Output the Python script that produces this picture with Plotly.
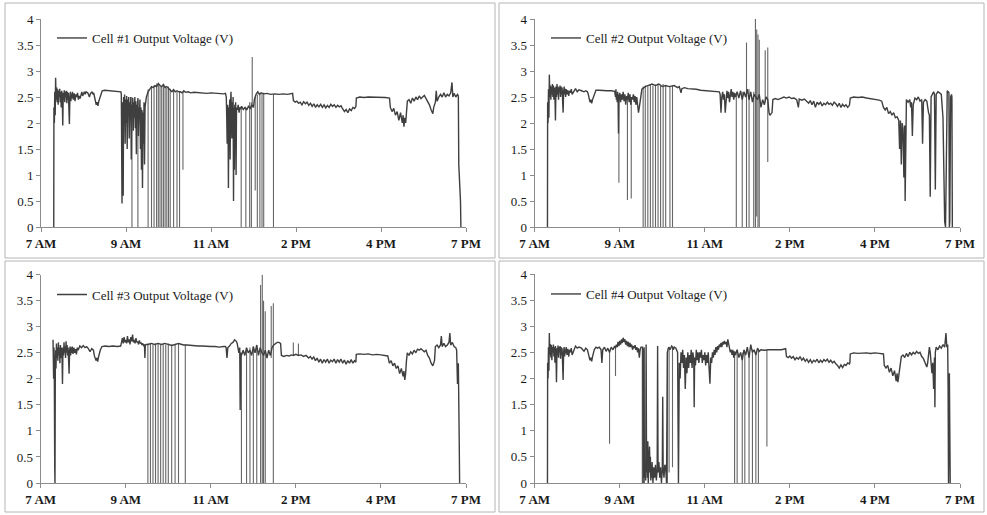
import plotly.graph_objects as go

# x positions are in tick-interval units: 0 = "7 AM" tick ... 5 = "7 PM" tick
tick_vals = [0, 1, 2, 3, 4, 5]
tick_labels = ["7 AM", "9 AM", "11 AM", "2 PM", "4 PM", "7 PM"]
y_ticks = [0, 0.5, 1, 1.5, 2, 2.5, 3, 3.5, 4]
series_names = ["Cell #1 Output Voltage (V)", "Cell #2 Output Voltage (V)",
                "Cell #3 Output Voltage (V)", "Cell #4 Output Voltage (V)"]

cell1_points = [
    (0.15, 0.0), (0.152, 2.3), (0.157, 2.0), (0.162, 2.6), (0.167, 2.15), (0.172, 2.87), (0.178, 2.45),
    (0.185, 2.68), (0.19, 2.4), (0.196, 2.65), (0.202, 2.35), (0.208, 2.62), (0.214, 2.5), (0.22, 2.66),
    (0.226, 2.4), (0.232, 2.6), (0.238, 2.3), (0.244, 2.62), (0.25, 2.5), (0.256, 1.95), (0.262, 2.58),
    (0.268, 2.45), (0.274, 2.63), (0.28, 2.4), (0.286, 2.6), (0.292, 2.5), (0.298, 2.62), (0.304, 2.38),
    (0.31, 2.6), (0.316, 2.45), (0.322, 2.58), (0.328, 2.3), (0.334, 1.98), (0.34, 2.5), (0.346, 2.6),
    (0.352, 2.42), (0.358, 2.56), (0.364, 2.48), (0.37, 2.6), (0.38, 2.45), (0.39, 2.57), (0.40, 2.42),
    (0.41, 2.55), (0.42, 2.5), (0.43, 2.58), (0.44, 2.45), (0.45, 2.52), (0.46, 2.47), (0.47, 2.55),
    (0.48, 2.6), (0.49, 2.52), (0.50, 2.58), (0.51, 2.6), (0.52, 2.55), (0.53, 2.6), (0.55, 2.58),
    (0.57, 2.5), (0.58, 2.56), (0.60, 2.6), (0.61, 2.55), (0.62, 2.58), (0.63, 2.5), (0.64, 2.42),
    (0.65, 2.35), (0.66, 2.4), (0.67, 2.33), (0.68, 2.42), (0.69, 2.48), (0.70, 2.5), (0.71, 2.55),
    (0.72, 2.62), (0.75, 2.63), (0.80, 2.62), (0.85, 2.62), (0.90, 2.61), (0.94, 2.6),
    (0.945, 2.55), (0.95, 1.2), (0.953, 0.45), (0.957, 2.4), (0.962, 2.1), (0.967, 0.6), (0.972, 2.5),
    (0.978, 2.25), (0.984, 2.55), (0.99, 1.6), (0.996, 2.45), (1.002, 2.0), (1.008, 2.52), (1.014, 1.5),
    (1.02, 2.45), (1.026, 2.2), (1.032, 2.5), (1.038, 1.7), (1.044, 2.4), (1.05, 2.05), (1.056, 2.5),
    (1.062, 1.3), (1.068, 2.35), (1.074, 2.15), (1.08, 2.48), (1.086, 1.85), (1.092, 2.4), (1.098, 2.1),
    (1.104, 2.5), (1.11, 1.9), (1.116, 2.42), (1.122, 1.4), (1.128, 2.35), (1.134, 2.2), (1.14, 2.48),
    (1.146, 1.75), (1.152, 2.3), (1.158, 2.1), (1.164, 2.45), (1.17, 1.5), (1.176, 2.3), (1.182, 1.1),
    (1.188, 2.25), (1.194, 0.75), (1.2, 2.2), (1.206, 1.6), (1.212, 2.4), (1.218, 1.2), (1.224, 2.3),
    (1.23, 2.45), (1.24, 2.5),
    (1.26, 2.6), (1.28, 2.65), (1.30, 2.7), (1.32, 2.68), (1.34, 2.72), (1.36, 2.7), (1.38, 2.76),
    (1.40, 2.72), (1.42, 2.7), (1.44, 2.74), (1.46, 2.68), (1.48, 2.7), (1.50, 2.66), (1.52, 2.62),
    (1.54, 2.6), (1.56, 2.64), (1.58, 2.6), (1.60, 2.62), (1.62, 2.6), (1.64, 2.6), (1.66, 2.58),
    (1.68, 2.62), (1.70, 2.59), (1.73, 2.6), (1.76, 2.58), (1.80, 2.59), (1.85, 2.58), (1.90, 2.58),
    (1.95, 2.57), (2.00, 2.58), (2.05, 2.57), (2.10, 2.57), (2.15, 2.56), (2.17, 2.57),
    (2.18, 2.5), (2.185, 2.1), (2.19, 1.6), (2.195, 2.35), (2.20, 2.2), (2.205, 0.75), (2.21, 2.3),
    (2.215, 1.9), (2.22, 2.45), (2.225, 1.3), (2.23, 2.35), (2.235, 2.6), (2.24, 2.25), (2.245, 1.7),
    (2.25, 2.4), (2.255, 2.15), (2.26, 2.5), (2.265, 0.5), (2.27, 2.3), (2.275, 1.1), (2.28, 2.35),
    (2.285, 2.2), (2.29, 2.4), (2.295, 1.0), (2.30, 2.3), (2.31, 2.25), (2.32, 2.35), (2.33, 2.2),
    (2.34, 2.3), (2.35, 2.28), (2.36, 2.32), (2.38, 2.26), (2.40, 2.3), (2.42, 2.25), (2.44, 2.32),
    (2.46, 2.28), (2.48, 2.35), (2.50, 2.3), (2.51, 2.45), (2.53, 2.55), (2.55, 2.6), (2.57, 2.55),
    (2.59, 2.58), (2.62, 2.56), (2.66, 2.57), (2.70, 2.55), (2.75, 2.56), (2.80, 2.55), (2.85, 2.56),
    (2.90, 2.55), (2.96, 2.57),
    (2.97, 2.43), (2.99, 2.4), (3.01, 2.42), (3.03, 2.38), (3.05, 2.4), (3.07, 2.35), (3.09, 2.41),
    (3.11, 2.37), (3.13, 2.4), (3.15, 2.34), (3.17, 2.38), (3.19, 2.32), (3.21, 2.37), (3.23, 2.3),
    (3.25, 2.35), (3.27, 2.31), (3.29, 2.36), (3.31, 2.3), (3.33, 2.35), (3.35, 2.29), (3.37, 2.34),
    (3.39, 2.3), (3.41, 2.36), (3.43, 2.32), (3.45, 2.35), (3.47, 2.3), (3.49, 2.34), (3.51, 2.31),
    (3.53, 2.33), (3.55, 2.27), (3.57, 2.22), (3.59, 2.26), (3.61, 2.2), (3.63, 2.27), (3.65, 2.24),
    (3.67, 2.3), (3.69, 2.28), (3.705, 2.32), (3.71, 2.48), (3.75, 2.5), (3.80, 2.49), (3.85, 2.5),
    (3.90, 2.5), (3.95, 2.49), (4.00, 2.5), (4.05, 2.49), (4.10, 2.48),
    (4.11, 2.3), (4.13, 2.22), (4.15, 2.28), (4.17, 2.15), (4.19, 2.22), (4.21, 2.05), (4.23, 2.2),
    (4.25, 2.0), (4.26, 2.15), (4.27, 1.93), (4.28, 2.1), (4.29, 2.0), (4.30, 2.25), (4.31, 2.42),
    (4.33, 2.45), (4.35, 2.38), (4.37, 2.48), (4.39, 2.42), (4.41, 2.5), (4.43, 2.45), (4.45, 2.52),
    (4.47, 2.47), (4.49, 2.5), (4.51, 2.53), (4.53, 2.47), (4.55, 2.42), (4.57, 2.35), (4.59, 2.25),
    (4.61, 2.18), (4.62, 2.3), (4.64, 2.4), (4.65, 2.62), (4.66, 2.42), (4.68, 2.5), (4.70, 2.55),
    (4.72, 2.5), (4.74, 2.58), (4.76, 2.5), (4.78, 2.55), (4.80, 2.52), (4.82, 2.58), (4.835, 2.78),
    (4.845, 2.5), (4.86, 2.57), (4.88, 2.5), (4.90, 2.55), (4.91, 2.52), (4.915, 1.2), (4.925, 0.9),
    (4.935, 0.5), (4.94, 0.0),
]
# (x, top, bottom) of the vertical drop-out lines
cell1_spikes = [
    (1.07, 2.5, 0.0), (1.14, 2.45, 0.0), (1.26, 2.65, 0.0), (1.30, 2.7, 0.0), (1.33, 2.72, 0.0),
    (1.36, 2.76, 0.0), (1.38, 2.74, 0.0), (1.40, 2.72, 0.0), (1.42, 2.7, 0.0), (1.44, 2.74, 0.0),
    (1.46, 2.7, 0.0), (1.48, 2.68, 0.0), (1.50, 2.7, 0.0), (1.52, 2.66, 0.0), (1.56, 2.62, 0.0),
    (1.60, 2.6, 0.0), (1.63, 2.6, 0.0), (1.67, 2.6, 1.1), (2.355, 2.3, 0.0), (2.41, 2.3, 0.0),
    (2.455, 2.4, 0.0), (2.475, 2.4, 0.0), (2.485, 3.27, 2.3), (2.52, 2.5, 0.7), (2.545, 2.55, 0.0),
    (2.575, 2.58, 0.0), (2.60, 2.56, 0.0), (2.62, 2.58, 0.0), (2.735, 2.55, 0.0),
]

cell2_points = [
    (0.15, 0.0), (0.152, 2.4), (0.157, 2.0), (0.162, 2.65), (0.167, 2.1), (0.172, 2.93), (0.178, 2.5),
    (0.184, 2.72), (0.19, 2.45), (0.196, 2.7), (0.202, 2.55), (0.208, 2.75), (0.214, 2.5), (0.22, 2.72),
    (0.226, 2.45), (0.232, 2.68), (0.238, 2.55), (0.244, 2.05), (0.25, 2.7), (0.256, 2.5), (0.262, 2.75),
    (0.268, 2.55), (0.274, 2.7), (0.28, 2.45), (0.286, 2.68), (0.292, 2.6), (0.298, 2.72), (0.304, 2.5),
    (0.31, 2.7), (0.316, 2.55), (0.322, 2.68), (0.328, 2.4), (0.334, 2.2), (0.34, 2.6), (0.346, 2.7),
    (0.352, 2.55), (0.358, 2.66), (0.364, 2.5), (0.37, 2.65), (0.38, 2.55), (0.39, 2.63), (0.40, 2.52),
    (0.41, 2.62), (0.42, 2.58), (0.43, 2.65), (0.44, 2.55), (0.46, 2.62), (0.48, 2.66), (0.50, 2.6),
    (0.52, 2.64), (0.55, 2.62), (0.58, 2.6), (0.60, 2.62), (0.62, 2.6), (0.63, 2.55), (0.64, 2.48),
    (0.65, 2.4), (0.66, 2.45), (0.67, 2.38), (0.68, 2.45), (0.69, 2.5), (0.70, 2.52), (0.71, 2.58),
    (0.72, 2.63), (0.76, 2.63), (0.80, 2.62), (0.85, 2.62), (0.90, 2.62), (0.94, 2.61),
    (0.95, 2.5), (0.955, 2.65), (0.96, 2.45), (0.965, 2.55), (0.97, 2.4), (0.975, 2.6), (0.98, 2.5),
    (0.985, 1.8), (0.99, 2.55), (0.995, 2.45), (1.0, 2.58), (1.01, 2.4), (1.02, 2.55), (1.03, 2.45),
    (1.04, 2.6), (1.05, 2.42), (1.06, 2.55), (1.07, 2.35), (1.08, 2.52), (1.09, 2.45), (1.10, 2.58),
    (1.11, 2.4), (1.12, 2.55), (1.13, 2.35), (1.14, 2.5), (1.15, 2.45), (1.16, 2.55), (1.17, 2.4),
    (1.18, 2.52), (1.19, 2.35), (1.20, 2.5), (1.21, 2.25), (1.22, 2.2), (1.23, 2.3), (1.24, 2.45),
    (1.26, 2.65), (1.30, 2.7), (1.34, 2.72), (1.38, 2.75), (1.42, 2.72), (1.46, 2.75), (1.50, 2.7),
    (1.54, 2.72), (1.58, 2.7), (1.62, 2.72), (1.64, 2.72), (1.66, 2.7), (1.68, 2.68), (1.70, 2.7),
    (1.72, 2.58), (1.73, 2.66), (1.76, 2.68), (1.80, 2.66), (1.85, 2.66), (1.90, 2.65), (1.95, 2.63),
    (2.00, 2.62), (2.05, 2.62), (2.10, 2.61), (2.15, 2.6), (2.17, 2.6),
    (2.18, 2.55), (2.19, 2.2), (2.20, 2.5), (2.21, 2.6), (2.22, 2.45), (2.23, 2.55), (2.24, 2.2),
    (2.25, 2.5), (2.26, 2.62), (2.27, 2.48), (2.28, 2.6), (2.29, 2.4), (2.30, 2.55), (2.31, 2.65),
    (2.32, 2.5), (2.33, 2.6), (2.34, 2.45), (2.35, 2.58), (2.36, 2.5), (2.38, 2.6), (2.40, 2.48),
    (2.42, 2.62), (2.44, 2.45), (2.46, 2.6), (2.48, 2.5), (2.50, 2.65), (2.52, 2.45), (2.54, 2.6),
    (2.56, 2.4), (2.58, 2.55), (2.60, 2.5), (2.62, 2.45), (2.64, 2.55), (2.66, 2.3), (2.68, 2.45),
    (2.70, 2.35), (2.72, 2.5), (2.74, 2.45), (2.755, 2.2), (2.765, 2.15), (2.78, 2.18), (2.79, 2.2),
    (2.80, 2.45), (2.83, 2.47), (2.86, 2.45), (2.90, 2.48), (2.93, 2.5), (2.96, 2.48), (2.99, 2.5),
    (3.02, 2.47), (3.05, 2.48), (3.08, 2.45), (3.10, 2.3), (3.11, 2.46), (3.14, 2.44), (3.17, 2.46),
    (3.20, 2.42), (3.22, 2.38), (3.24, 2.43), (3.26, 2.35), (3.28, 2.42), (3.30, 2.3), (3.32, 2.4),
    (3.34, 2.36), (3.36, 2.4), (3.38, 2.33), (3.40, 2.38), (3.42, 2.35), (3.44, 2.4), (3.46, 2.36),
    (3.48, 2.38), (3.50, 2.34), (3.52, 2.4), (3.54, 2.37), (3.56, 2.32), (3.58, 2.38), (3.60, 2.3),
    (3.62, 2.36), (3.64, 2.32), (3.66, 2.35), (3.68, 2.3), (3.70, 2.34), (3.71, 2.48), (3.75, 2.5),
    (3.80, 2.49), (3.85, 2.5), (3.90, 2.48), (3.95, 2.47), (4.00, 2.46), (4.05, 2.44), (4.08, 2.42),
    (4.10, 2.3), (4.12, 2.25), (4.14, 2.3), (4.16, 2.18), (4.18, 2.22), (4.20, 2.15), (4.22, 2.2),
    (4.24, 2.1), (4.26, 2.12), (4.28, 2.05), (4.29, 1.5), (4.30, 2.05), (4.31, 1.2), (4.32, 2.0),
    (4.33, 1.9), (4.34, 0.95), (4.35, 1.95), (4.355, 0.5), (4.36, 1.9), (4.37, 2.45), (4.39, 2.4),
    (4.41, 2.45), (4.42, 2.3), (4.43, 2.4), (4.44, 1.75), (4.45, 2.35), (4.47, 2.48), (4.49, 2.45),
    (4.51, 2.5), (4.53, 2.42), (4.55, 2.45), (4.56, 1.6), (4.57, 2.4), (4.59, 2.45), (4.61, 2.42),
    (4.62, 2.25), (4.63, 2.2), (4.64, 2.15), (4.65, 0.58), (4.66, 2.5), (4.68, 2.55), (4.69, 2.6),
    (4.70, 2.55), (4.71, 0.72), (4.72, 2.55), (4.74, 2.6), (4.76, 2.58), (4.78, 2.55), (4.80, 2.1),
    (4.81, 0.8), (4.82, 0.1), (4.83, 0.0), (4.84, 2.0), (4.85, 2.62), (4.86, 2.6), (4.87, 2.58),
    (4.875, 0.0), (4.88, 0.1), (4.89, 2.5), (4.90, 2.55), (4.905, 2.5), (4.91, 0.0),
]
cell2_spikes = [
    (0.99, 2.5, 0.85), (1.09, 2.5, 0.52), (1.135, 2.5, 0.55), (1.275, 2.7, 0.0), (1.30, 2.72, 0.0),
    (1.33, 2.7, 0.0), (1.36, 2.75, 0.0), (1.39, 2.72, 0.0), (1.42, 2.74, 0.0), (1.45, 2.76, 0.0),
    (1.48, 2.72, 0.0), (1.51, 2.75, 0.0), (1.54, 2.72, 0.0), (1.59, 2.7, 0.0), (1.62, 2.72, 0.0),
    (2.37, 2.55, 0.0), (2.44, 2.6, 0.0), (2.49, 3.55, 0.0), (2.52, 2.65, 0.0), (2.575, 2.6, 0.0),
    (2.595, 4.0, 0.0), (2.61, 3.8, 0.2), (2.625, 3.7, 0.0), (2.64, 3.6, 0.0), (2.71, 3.4, 2.4),
    (2.74, 3.45, 1.25),
]

cell3_points = [
    (0.145, 2.75), (0.148, 2.2), (0.152, 2.0), (0.156, 2.6), (0.16, 2.1), (0.165, 0.3), (0.168, 0.0),
    (0.172, 2.3), (0.176, 2.55), (0.18, 2.2), (0.185, 2.68), (0.19, 2.4), (0.196, 2.6), (0.202, 2.35),
    (0.208, 2.7), (0.214, 2.45), (0.22, 2.6), (0.226, 2.3), (0.232, 2.65), (0.238, 2.4), (0.244, 2.6),
    (0.25, 2.5), (0.256, 1.9), (0.262, 2.6), (0.268, 2.45), (0.274, 2.7), (0.28, 2.5), (0.286, 2.62),
    (0.292, 2.4), (0.298, 2.72), (0.304, 2.5), (0.31, 2.65), (0.316, 2.45), (0.322, 2.6), (0.328, 2.3),
    (0.334, 2.1), (0.34, 2.55), (0.346, 2.62), (0.352, 2.45), (0.358, 2.6), (0.364, 2.5), (0.37, 2.62),
    (0.38, 2.48), (0.39, 2.6), (0.40, 2.5), (0.41, 2.57), (0.42, 2.47), (0.43, 2.6), (0.44, 2.55),
    (0.46, 2.63), (0.48, 2.6), (0.50, 2.64), (0.52, 2.6), (0.54, 2.62), (0.56, 2.58), (0.58, 2.52),
    (0.60, 2.58), (0.62, 2.55), (0.63, 2.45), (0.64, 2.4), (0.65, 2.35), (0.66, 2.4), (0.67, 2.33),
    (0.68, 2.42), (0.69, 2.5), (0.70, 2.55), (0.72, 2.62), (0.76, 2.63), (0.80, 2.62), (0.85, 2.63),
    (0.90, 2.62), (0.94, 2.63), (0.95, 2.7), (0.96, 2.78), (0.97, 2.68), (0.98, 2.8), (0.99, 2.7),
    (1.0, 2.75), (1.01, 2.68), (1.02, 2.82), (1.03, 2.7), (1.04, 2.76), (1.05, 2.66), (1.06, 2.8),
    (1.07, 2.72), (1.08, 2.85), (1.09, 2.7), (1.10, 2.75), (1.11, 2.68), (1.12, 2.78), (1.13, 2.7),
    (1.14, 2.72), (1.15, 2.66), (1.16, 2.74), (1.17, 2.68), (1.18, 2.7), (1.19, 2.65), (1.20, 2.68),
    (1.21, 2.64), (1.22, 2.66), (1.225, 2.4), (1.23, 2.65), (1.24, 2.66),
    (1.26, 2.66), (1.30, 2.68), (1.34, 2.66), (1.38, 2.68), (1.42, 2.66), (1.46, 2.68), (1.50, 2.66),
    (1.54, 2.64), (1.58, 2.66), (1.62, 2.68), (1.64, 2.67), (1.66, 2.66), (1.68, 2.65), (1.72, 2.65),
    (1.76, 2.64), (1.80, 2.64), (1.85, 2.63), (1.90, 2.63), (1.95, 2.62), (2.00, 2.62), (2.05, 2.62),
    (2.10, 2.61), (2.15, 2.62), (2.17, 2.62), (2.18, 2.6), (2.19, 2.4), (2.20, 2.6), (2.22, 2.63),
    (2.24, 2.68), (2.26, 2.7), (2.28, 2.75), (2.30, 2.72), (2.31, 2.68), (2.32, 2.55), (2.33, 2.5),
    (2.34, 2.6), (2.345, 1.4), (2.35, 2.5), (2.36, 2.45), (2.38, 2.55), (2.40, 2.45), (2.42, 2.6),
    (2.44, 2.5), (2.46, 2.55), (2.48, 2.45), (2.50, 2.62), (2.52, 2.5), (2.54, 2.65), (2.56, 2.45),
    (2.58, 2.6), (2.60, 2.5), (2.62, 2.45), (2.64, 2.55), (2.66, 2.4), (2.68, 2.55), (2.70, 2.45),
    (2.72, 2.6), (2.74, 2.65), (2.76, 2.68), (2.78, 2.7), (2.80, 2.7), (2.82, 2.68), (2.83, 2.45),
    (2.86, 2.43), (2.89, 2.45), (2.92, 2.44), (2.95, 2.46), (2.97, 2.45), (3.0, 2.47), (3.03, 2.45),
    (3.06, 2.46), (3.09, 2.43), (3.12, 2.45), (3.15, 2.4), (3.17, 2.43), (3.19, 2.38), (3.21, 2.42),
    (3.23, 2.35), (3.25, 2.4), (3.27, 2.32), (3.29, 2.38), (3.31, 2.3), (3.33, 2.37), (3.35, 2.32),
    (3.37, 2.38), (3.39, 2.3), (3.41, 2.36), (3.43, 2.33), (3.45, 2.38), (3.47, 2.3), (3.49, 2.37),
    (3.51, 2.32), (3.53, 2.38), (3.55, 2.3), (3.57, 2.36), (3.59, 2.28), (3.61, 2.35), (3.63, 2.3),
    (3.65, 2.37), (3.67, 2.3), (3.69, 2.35), (3.705, 2.32), (3.71, 2.47), (3.75, 2.48), (3.80, 2.47),
    (3.85, 2.48), (3.90, 2.46), (3.95, 2.47), (4.00, 2.46), (4.05, 2.45), (4.08, 2.44), (4.10, 2.3),
    (4.12, 2.35), (4.14, 2.25), (4.16, 2.3), (4.18, 2.2), (4.20, 2.25), (4.22, 2.1), (4.24, 2.2),
    (4.26, 2.05), (4.27, 2.15), (4.28, 1.98), (4.29, 2.1), (4.30, 2.35), (4.31, 2.5), (4.33, 2.45),
    (4.35, 2.52), (4.37, 2.48), (4.39, 2.55), (4.41, 2.5), (4.43, 2.57), (4.45, 2.55), (4.47, 2.58),
    (4.49, 2.55), (4.51, 2.52), (4.53, 2.55), (4.55, 2.45), (4.57, 2.4), (4.59, 2.3), (4.61, 2.25),
    (4.62, 2.3), (4.63, 2.35), (4.64, 2.62), (4.66, 2.65), (4.68, 2.6), (4.70, 2.65), (4.71, 2.82),
    (4.72, 2.62), (4.74, 2.68), (4.76, 2.62), (4.78, 2.65), (4.80, 2.7), (4.81, 2.88), (4.82, 2.65),
    (4.84, 2.7), (4.86, 2.62), (4.88, 2.6), (4.89, 2.55), (4.90, 1.9), (4.91, 2.3), (4.92, 0.85),
    (4.925, 0.0),
]
cell3_spikes = [
    (1.26, 2.68, 0.0), (1.29, 2.68, 0.0), (1.32, 2.66, 0.0), (1.35, 2.68, 0.0), (1.38, 2.68, 0.0),
    (1.41, 2.66, 0.0), (1.44, 2.68, 0.0), (1.47, 2.66, 0.0), (1.50, 2.68, 0.0), (1.54, 2.66, 0.0),
    (1.58, 2.66, 0.0), (1.62, 2.68, 0.0), (1.70, 2.66, 0.0), (2.36, 2.5, 0.0), (2.42, 2.55, 0.0),
    (2.46, 2.6, 0.0), (2.50, 2.62, 0.0), (2.54, 2.65, 0.0), (2.585, 3.8, 0.0), (2.605, 4.0, 0.0),
    (2.62, 3.5, 0.0), (2.64, 3.3, 0.0), (2.71, 3.4, 2.4), (2.735, 3.45, 0.0), (2.97, 2.7, 2.45),
    (3.03, 2.68, 2.45),
]

cell4_points = [
    (0.15, 0.0), (0.152, 2.3), (0.157, 2.0), (0.162, 2.6), (0.167, 2.15), (0.172, 2.87), (0.178, 2.45),
    (0.185, 2.66), (0.19, 2.4), (0.196, 2.64), (0.202, 2.35), (0.208, 2.6), (0.214, 2.5), (0.22, 2.65),
    (0.226, 2.42), (0.232, 2.6), (0.238, 2.3), (0.244, 2.62), (0.25, 2.48), (0.256, 1.93), (0.262, 2.58),
    (0.268, 2.45), (0.274, 2.63), (0.28, 2.4), (0.286, 2.6), (0.292, 2.5), (0.298, 2.62), (0.304, 2.38),
    (0.31, 2.6), (0.316, 2.45), (0.322, 2.58), (0.328, 2.3), (0.334, 1.97), (0.34, 2.5), (0.346, 2.6),
    (0.352, 2.42), (0.358, 2.56), (0.364, 2.48), (0.37, 2.6), (0.38, 2.45), (0.39, 2.57), (0.40, 2.42),
    (0.41, 2.55), (0.42, 2.5), (0.43, 2.58), (0.44, 2.45), (0.46, 2.55), (0.48, 2.62), (0.50, 2.58),
    (0.52, 2.6), (0.55, 2.58), (0.58, 2.52), (0.60, 2.58), (0.62, 2.55), (0.63, 2.48), (0.64, 2.4),
    (0.65, 2.35), (0.66, 2.4), (0.67, 2.33), (0.68, 2.42), (0.69, 2.5), (0.70, 2.55), (0.72, 2.6),
    (0.74, 2.58), (0.76, 2.6), (0.78, 2.55), (0.79, 2.3), (0.80, 2.55), (0.82, 2.6), (0.84, 2.52),
    (0.86, 2.58), (0.88, 2.5), (0.90, 2.6), (0.92, 2.55), (0.94, 2.62), (0.95, 2.58), (0.96, 2.65),
    (0.97, 2.6), (0.98, 2.7), (0.99, 2.62), (1.0, 2.72), (1.01, 2.65), (1.02, 2.75), (1.03, 2.68),
    (1.04, 2.78), (1.05, 2.7), (1.06, 2.75), (1.07, 2.65), (1.08, 2.72), (1.09, 2.62), (1.10, 2.7),
    (1.11, 2.6), (1.12, 2.68), (1.13, 2.6), (1.14, 2.65), (1.15, 2.55), (1.16, 2.62), (1.17, 2.58),
    (1.18, 2.64), (1.19, 2.55), (1.20, 2.6), (1.21, 2.5), (1.22, 2.58), (1.23, 2.4), (1.24, 2.55),
    (1.25, 2.6),
    (1.27, 2.6), (1.275, 0.0), (1.28, 2.58), (1.285, 0.3), (1.29, 0.1), (1.30, 0.4), (1.305, 0.05),
    (1.31, 2.65), (1.315, 0.2), (1.32, 0.6), (1.325, 0.1), (1.33, 0.8), (1.335, 0.0), (1.34, 0.45),
    (1.345, 0.15), (1.35, 0.7), (1.355, 0.2), (1.36, 0.5), (1.365, 0.05), (1.37, 0.35), (1.375, 0.1),
    (1.38, 0.4), (1.39, 0.0), (1.40, 0.3), (1.41, 0.1), (1.42, 0.35), (1.43, 0.05), (1.44, 0.25),
    (1.445, 2.62), (1.45, 0.2), (1.46, 0.4), (1.47, 0.1), (1.48, 0.3), (1.49, 0.0), (1.50, 0.25),
    (1.505, 1.65), (1.51, 0.3), (1.52, 0.1), (1.53, 0.35), (1.54, 0.3), (1.55, 0.0), (1.56, 2.5),
    (1.57, 2.58), (1.58, 2.6), (1.59, 2.55), (1.60, 2.6), (1.61, 2.62), (1.62, 2.6), (1.63, 2.55),
    (1.64, 2.6), (1.66, 2.58), (1.68, 2.5), (1.69, 0.0), (1.70, 2.3), (1.71, 2.0), (1.72, 2.5),
    (1.73, 2.3), (1.74, 2.55), (1.75, 2.2), (1.76, 2.45), (1.77, 1.8), (1.78, 2.4), (1.79, 2.1),
    (1.80, 2.5), (1.81, 2.2), (1.82, 2.45), (1.83, 2.3), (1.84, 2.55), (1.85, 2.2), (1.86, 2.5),
    (1.87, 2.35), (1.875, 1.45), (1.88, 2.4), (1.89, 2.25), (1.90, 2.55), (1.91, 2.35), (1.92, 2.5),
    (1.93, 2.3), (1.94, 2.5), (1.95, 2.4), (1.96, 2.55), (1.97, 2.3), (1.98, 2.45), (1.99, 2.35),
    (2.0, 2.5), (2.01, 2.25), (2.02, 2.45), (2.03, 2.3), (2.04, 2.5), (2.05, 2.2), (2.06, 1.9),
    (2.07, 2.4), (2.08, 2.3), (2.09, 2.5), (2.10, 2.4), (2.11, 2.55), (2.12, 2.45), (2.13, 2.6),
    (2.14, 2.5), (2.15, 2.62), (2.16, 2.55), (2.17, 2.65), (2.18, 2.6), (2.19, 2.68), (2.20, 2.6),
    (2.21, 2.7), (2.22, 2.65), (2.23, 2.72), (2.24, 2.66), (2.25, 2.7), (2.26, 2.6), (2.27, 2.75),
    (2.28, 2.65), (2.29, 2.6), (2.30, 2.5), (2.31, 2.55), (2.32, 2.45), (2.33, 2.55), (2.34, 2.4),
    (2.35, 2.52), (2.36, 2.45), (2.38, 2.55), (2.40, 2.4), (2.42, 2.5), (2.44, 2.35), (2.46, 2.55),
    (2.48, 2.45), (2.50, 2.6), (2.52, 2.4), (2.54, 2.65), (2.56, 2.5), (2.58, 2.55), (2.60, 2.45),
    (2.62, 2.58), (2.64, 2.52), (2.66, 2.55), (2.70, 2.54), (2.75, 2.55), (2.80, 2.55), (2.85, 2.56),
    (2.90, 2.55), (2.95, 2.57),
    (2.96, 2.42), (2.98, 2.4), (3.00, 2.43), (3.02, 2.39), (3.04, 2.42), (3.06, 2.36), (3.08, 2.4),
    (3.10, 2.37), (3.12, 2.42), (3.14, 2.35), (3.16, 2.39), (3.18, 2.33), (3.20, 2.37), (3.22, 2.31),
    (3.24, 2.36), (3.26, 2.3), (3.28, 2.35), (3.30, 2.32), (3.32, 2.37), (3.34, 2.3), (3.36, 2.35),
    (3.38, 2.31), (3.40, 2.36), (3.42, 2.33), (3.44, 2.37), (3.46, 2.31), (3.48, 2.35), (3.50, 2.3),
    (3.52, 2.33), (3.54, 2.28), (3.56, 2.25), (3.58, 2.2), (3.60, 2.26), (3.62, 2.21), (3.64, 2.27),
    (3.66, 2.25), (3.68, 2.3), (3.70, 2.28), (3.705, 2.3), (3.71, 2.47), (3.75, 2.49), (3.80, 2.48),
    (3.85, 2.49), (3.90, 2.49), (3.95, 2.48), (4.00, 2.49), (4.05, 2.48), (4.10, 2.47),
    (4.11, 2.25), (4.13, 2.2), (4.15, 2.25), (4.17, 2.12), (4.19, 2.2), (4.21, 2.05), (4.23, 2.15),
    (4.25, 1.95), (4.26, 2.1), (4.27, 1.93), (4.28, 2.05), (4.30, 2.3), (4.31, 2.42), (4.33, 2.45),
    (4.35, 2.4), (4.37, 2.48), (4.39, 2.42), (4.41, 2.5), (4.43, 2.45), (4.45, 2.5), (4.47, 2.47),
    (4.49, 2.52), (4.51, 2.48), (4.53, 2.5), (4.55, 2.42), (4.57, 2.38), (4.59, 2.3), (4.61, 2.22),
    (4.62, 2.3), (4.63, 2.45), (4.64, 2.6), (4.65, 2.5), (4.66, 2.3), (4.67, 2.1), (4.68, 2.3),
    (4.69, 1.8), (4.70, 2.4), (4.705, 1.45), (4.71, 2.5), (4.72, 2.6), (4.74, 2.55), (4.76, 2.62),
    (4.78, 2.58), (4.80, 2.65), (4.82, 2.6), (4.835, 2.87), (4.845, 2.6), (4.855, 2.65), (4.86, 1.85),
    (4.865, 0.0), (4.875, 2.1), (4.88, 1.5), (4.885, 0.0),
]
cell4_spikes = [
    (0.88, 2.55, 0.75), (0.95, 2.6, 2.05), (1.265, 2.6, 0.0), (1.29, 2.6, 0.0), (1.56, 2.5, 0.0),
    (1.58, 2.6, 0.2), (1.62, 2.6, 0.3), (2.35, 2.5, 0.0), (2.38, 2.55, 0.0), (2.44, 2.5, 0.0),
    (2.47, 2.5, 0.0), (2.52, 2.45, 0.0), (2.56, 2.55, 0.0), (2.60, 2.5, 0.0), (2.63, 2.55, 0.0),
    (2.73, 2.55, 0.7),
]

cells = [(cell1_points, cell1_spikes), (cell2_points, cell2_spikes),
         (cell3_points, cell3_spikes), (cell4_points, cell4_spikes)]

W, H = 987, 515
# plot areas in pixels: (left, right, top, bottom)
areas = [(41, 466, 19, 227), (534.7, 960, 19, 227), (40.7, 466, 274.7, 483), (534.7, 960, 274, 483)]
boxes = [(5, 495, 3, 258), (499, 984, 3, 258), (5, 495, 261, 512), (499, 984, 261, 512)]
legend_pos = [(52, 38), (546, 38), (52, 294.5), (546, 294)]

LINE = "#3f3f3f"
SPIKE = "#666666"
AXIS = "#8c8c8c"
FONT = "Liberation Serif"

fig = go.Figure()
layout = dict(width=W, height=H, margin=dict(l=0, r=0, t=0, b=0, pad=0), autosize=False,
              paper_bgcolor="white", plot_bgcolor="white", showlegend=True, shapes=[])

for i, ((pts, spikes), name) in enumerate(zip(cells, series_names)):
    k = "" if i == 0 else str(i + 1)
    xs = [p[0] for p in pts]
    ys = [p[1] for p in pts]
    sx, sy = [], []
    for (x, top, low) in spikes:
        sx += [x, x, None]
        sy += [top, low, None]
    leg = "legend" if i == 0 else f"legend{i + 1}"
    fig.add_trace(go.Scatter(x=sx, y=sy, mode="lines", line=dict(color=SPIKE, width=1.1),
                             xaxis="x" + k, yaxis="y" + k, showlegend=False, hoverinfo="skip"))
    fig.add_trace(go.Scatter(x=xs, y=ys, mode="lines", name=name,
                             line=dict(color=LINE, width=1.4),
                             xaxis="x" + k, yaxis="y" + k, legend=leg))
    l, r, t, b = areas[i]
    layout["xaxis" + k] = dict(domain=[l / W, r / W], range=[0, 5], anchor="y" + k,
                               automargin=False,
                               tickvals=tick_vals, ticktext=[f"<b>{s}</b>" for s in tick_labels],
                               showgrid=False, zeroline=False, showline=True, linecolor=AXIS,
                               linewidth=1, ticks="outside", ticklen=4, tickcolor=AXIS,
                               tickfont=dict(family=FONT, size=13, color="#1a1a1a"))
    layout["yaxis" + k] = dict(domain=[1 - b / H, 1 - t / H], range=[0, 4], anchor="x" + k,
                               automargin=False,
                               tickvals=y_ticks, ticktext=[f"{v:g}" for v in y_ticks],
                               showgrid=False, zeroline=False, showline=True, linecolor=AXIS,
                               linewidth=1, ticks="outside", ticklen=4, tickcolor=AXIS,
                               tickfont=dict(family=FONT, size=13, color="#1a1a1a"))
    lx, ly = legend_pos[i]
    layout[leg] = dict(x=lx / W, y=1 - ly / H, xanchor="left", yanchor="middle",
                       bgcolor="rgba(0,0,0,0)", itemwidth=30,
                       font=dict(family=FONT, size=13, color="#1a1a1a"))
    bx0, bx1, by0, by1 = boxes[i]
    layout["shapes"].append(dict(type="rect", xref="paper", yref="paper",
                                 x0=bx0 / W, x1=bx1 / W, y0=1 - by1 / H, y1=1 - by0 / H,
                                 line=dict(color="#b4b4b4", width=1), layer="below"))

fig.update_layout(**layout)
fig.write_html("out.html", config={"displayModeBar": False},
               post_script="document.body.style.margin='0';document.body.style.overflow='hidden';")
